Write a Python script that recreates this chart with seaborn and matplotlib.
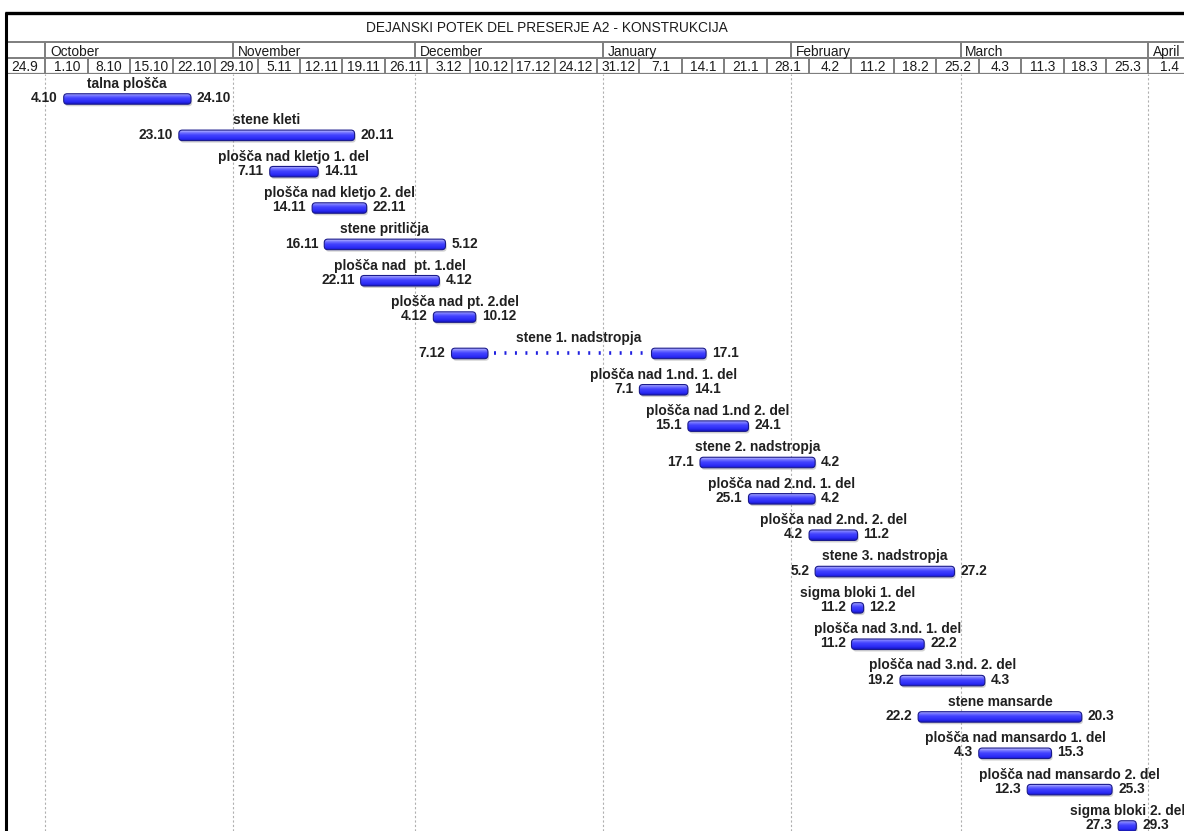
import numpy as np
import pandas as pd
import matplotlib
matplotlib.use("Agg")
import matplotlib.pyplot as plt
from matplotlib.patches import FancyBboxPatch
from matplotlib.colors import LinearSegmentedColormap
from matplotlib.lines import Line2D
import seaborn as sns

# ---------------------------------------------------------------- data
title = "DEJANSKI POTEK DEL PRESERJE A2 - KONSTRUKCIJA"

tasks = [
    "talna plošča",
    "stene kleti",
    "plošča nad kletjo 1. del",
    "plošča nad kletjo 2. del",
    "stene pritličja",
    "plošča nad  pt. 1.del",
    "plošča nad pt. 2.del",
    "stene 1. nadstropja",
    "plošča nad 1.nd. 1. del",
    "plošča nad 1.nd 2. del",
    "stene 2. nadstropja",
    "plošča nad 2.nd. 1. del",
    "plošča nad 2.nd. 2. del",
    "stene 3. nadstropja",
    "sigma bloki 1. del",
    "plošča nad 3.nd. 1. del",
    "plošča nad 3.nd. 2. del",
    "stene mansarde",
    "plošča nad mansardo 1. del",
    "plošča nad mansardo 2. del",
    "sigma bloki 2. del",
]
start_labels = ["4.10", "23.10", "7.11", "14.11", "16.11", "22.11", "4.12",
                "7.12", "7.1", "15.1", "17.1", "25.1", "4.2", "5.2", "11.2",
                "11.2", "19.2", "22.2", "4.3", "12.3", "27.3"]
finish_labels = ["24.10", "20.11", "14.11", "22.11", "5.12", "4.12", "10.12",
                 "17.1", "14.1", "24.1", "4.2", "4.2", "11.2", "27.2", "12.2",
                 "22.2", "4.3", "20.3", "15.3", "25.3", "29.3"]

# the one interrupted task: worked in two pieces
split_task = "stene 1. nadstropja"
split_segments = [("7.12", "12.12"), ("9.1", "17.1")]

month_names = ["October", "November", "December", "January",
               "February", "March", "April"]

# ---------------------------------------------------------------- dates
ORIGIN = pd.Timestamp("2012-10-01")


def to_date(label):
    d, m = (int(v) for v in label.split("."))
    return pd.Timestamp(year=2012 if m >= 9 else 2013, month=m, day=d)


def to_day(label):
    return (to_date(label) - ORIGIN).days


starts = np.array([to_day(s) for s in start_labels], dtype=float)
finishes = np.array([to_day(f) for f in finish_labels], dtype=float) + 1.0

bars = pd.DataFrame({"task": tasks, "left": starts, "duration": finishes - starts})
extra = []
for i, (a, b) in enumerate(split_segments):
    s, f = to_day(a), to_day(b) + 1.0
    if i == 0:
        bars.loc[bars.task == split_task, ["left", "duration"]] = [s, f - s]
    else:
        extra.append({"task": split_task, "left": s, "duration": f - s})
extra = pd.DataFrame(extra)

month_starts = pd.date_range("2012-10-01", "2013-04-01", freq="MS")
month_days = np.array([(m - ORIGIN).days for m in month_starts], dtype=float)
week_starts = pd.date_range("2012-09-24", "2013-04-01", freq="W-MON")
week_days = np.array([(w - ORIGIN).days for w in week_starts], dtype=float)
week_labels = [f"{w.day}.{w.month}" for w in week_starts]

# ---------------------------------------------------------------- layout
W, H = 1184, 831
LEFT_PX = 7
ORIGIN_PX = 45.5
PX_DAY = 6.06
HEAD_TOP, HEAD_BOTTOM = 13, 74
FIRST_ROW_PX, ROW_PX = 99, 36.35
BAR_PX = 10.5
RADIUS_PX = 3.5
FS = 9.9

sns.set_theme(style="white")
plt.rcParams["font.family"] = ["Liberation Sans", "DejaVu Sans"]
plt.rcParams["axes.unicode_minus"] = False

fig = plt.figure(figsize=(W / 100, H / 100), dpi=100)
fig.patch.set_facecolor("white")

body = fig.add_axes([LEFT_PX / W, 0, (W - LEFT_PX) / W, (H - HEAD_BOTTOM) / H])
head = fig.add_axes([LEFT_PX / W, (H - HEAD_BOTTOM) / H, (W - LEFT_PX) / W,
                     (HEAD_BOTTOM - HEAD_TOP) / H], sharex=body)

xlim = ((LEFT_PX - ORIGIN_PX) / PX_DAY, (W - ORIGIN_PX) / PX_DAY)
row_top = -(FIRST_ROW_PX - HEAD_BOTTOM) / ROW_PX
ylim = (row_top + (H - HEAD_BOTTOM) / ROW_PX, row_top)

# ---------------------------------------------------------------- bars
bar_w = BAR_PX / ROW_PX
sns.barplot(data=bars, y="task", x="duration", order=tasks, orient="y",
            left=bars["left"].to_numpy(), width=bar_w, errorbar=None,
            color="#3a3aff", saturation=1, ax=body)
sns.barplot(data=extra, y="task", x="duration", order=tasks, orient="y",
            left=extra["left"].to_numpy(), width=bar_w, errorbar=None,
            color="#3a3aff", saturation=1, ax=body)

body.set_xlim(*xlim)
body.set_ylim(*ylim)
for a in (body, head):
    a.set_xlabel("")
    a.set_ylabel("")
    a.set_xticks([])
    a.set_yticks([])
    for sp in a.spines.values():
        sp.set_visible(False)
    a.set_facecolor("white")

# restyle the plain rectangles as rounded, glossy Gantt bars
aspect = PX_DAY / ROW_PX
bar_cmap = LinearSegmentedColormap.from_list(
    "gantt", [(0.0, "#cacaff"), (0.2, "#7c7cff"), (0.45, "#4343ff"),
              (0.78, "#2c2cf6"), (1.0, "#1515c4")])
grad = np.linspace(0, 1, 64).reshape(-1, 1)
r = RADIUS_PX / PX_DAY
dx, dy = 1.2 / PX_DAY, 2.0 / ROW_PX

rects = list(body.patches)
for p in rects:
    x0, y0, w, h = p.get_x(), p.get_y(), p.get_width(), p.get_height()
    p.remove()
    rr = min(r, w / 2)
    style = f"round,pad=0,rounding_size={rr}"
    shadow = FancyBboxPatch((x0 + dx, y0 + dy), w, h, boxstyle=style,
                            mutation_aspect=aspect, fc="#8c8c8c", ec="none",
                            alpha=0.4, zorder=2)
    body.add_patch(shadow)
    shape = FancyBboxPatch((x0, y0), w, h, boxstyle=style,
                           mutation_aspect=aspect, fc="none", ec="#1a1a8c",
                           lw=0.8, zorder=4)
    body.add_patch(shape)
    im = body.imshow(grad, extent=(x0, x0 + w, y0 + h, y0), origin="upper",
                     aspect="auto", cmap=bar_cmap, interpolation="bilinear",
                     zorder=3)
    im.set_clip_path(shape)

body.set_xlim(*xlim)
body.set_ylim(*ylim)

# dotted link across the interruption
row_split = tasks.index(split_task)
gap_start = to_day(split_segments[0][1]) + 1.0 + 6.5 / PX_DAY
gap_end = to_day(split_segments[1][0]) - 1.0 / PX_DAY
body.plot([gap_start, gap_end], [row_split, row_split], color="#2020e0",
          lw=2.6, linestyle=(0, (0.55, 2.35)), solid_capstyle="butt",
          dash_capstyle="butt", zorder=3)

# month gridlines
for md in month_days:
    body.axvline(md, color="#b0b0b0", lw=0.8, linestyle=(0, (2, 2)), zorder=1)

# labels
lab_kw = dict(fontsize=FS, fontweight="bold", color="#202020",
              textcoords="offset points", annotation_clip=False)
for i, t in enumerate(tasks):
    s, f = starts[i], finishes[i]
    body.annotate(start_labels[i], xy=(s, i), xytext=(-4.3, 0.6),
                  ha="right", va="center", zorder=6, **lab_kw)
    body.annotate(finish_labels[i], xy=(f, i), xytext=(4.3, 0.6),
                  ha="left", va="center", zorder=6, **lab_kw)
    body.annotate(t, xy=((s + f) / 2, i), xytext=(0, 8.0),
                  ha="center", va="baseline", zorder=6, **lab_kw)

# ---------------------------------------------------------------- header
head.set_ylim(HEAD_BOTTOM, HEAD_TOP)
grey = "#7e7e7e"
y_title, y_month, y_week = 42, 57.5, 73.5
head.axhline(y_title, color=grey, lw=1.4)
head.axhline(y_month, color=grey, lw=1.4)
head.axhline(y_week, color=grey, lw=1.6)
head.vlines(month_days, y_title, y_month, color=grey, lw=1.4)
head.vlines(week_days, y_month, y_week, color=grey, lw=1.4)

txt_kw = dict(fontsize=FS, color="#1c1c1c", clip_on=True)
for md, name in zip(month_days, month_names):
    head.text(md + 4.5 / PX_DAY, (y_title + y_month) / 2 + 1.8, name,
              ha="left", va="center", **txt_kw)
for wd, lab in zip(week_days, week_labels):
    head.text(wd + 3.5, (y_month + y_week) / 2 + 1.5, lab,
              ha="center", va="center", **txt_kw)

fig.text(547 / W, 1 - 28.5 / H, title, ha="center", va="center",
         fontsize=FS, color="#1c1c1c")

# outer frame: heavy top and left edges
fig.add_artist(Line2D([5 / W, 1], [1 - HEAD_TOP / H, 1 - HEAD_TOP / H],
                      color="black", lw=2.4, solid_capstyle="butt"))
fig.add_artist(Line2D([6 / W, 6 / W], [0, 1 - (HEAD_TOP - 1) / H],
                      color="black", lw=2.2, solid_capstyle="butt"))

fig.savefig("out.png", dpi=100, facecolor="white")
